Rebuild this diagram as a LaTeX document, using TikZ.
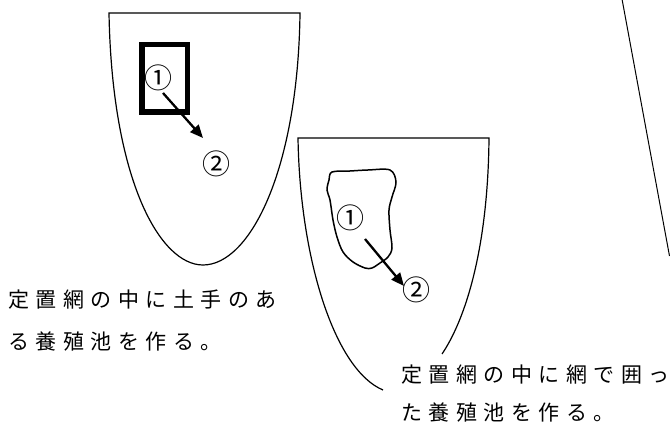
\documentclass[tikz,border=0pt]{standalone}
\usepackage{fontspec}
\usetikzlibrary{arrows.meta}
\newfontfamily\jp[LetterSpace=31]{Noto Sans CJK JP}
\newfontfamily\circfont{Noto Sans CJK JP}
\begin{document}
\begin{tikzpicture}[x=1pt,y=-1pt,
  outline/.style={line width=1.2pt},
  pond/.style={line width=5.5pt},
  netpond/.style={line width=1.5pt},
  arr/.style={line width=2.3pt,-{Triangle[length=13pt,width=11pt]}},
  num/.style={inner sep=0pt,font=\circfont\fontsize{28}{28}\selectfont},
  lbl/.style={anchor=west,inner sep=0pt,font=\jp\fontsize{21}{21}\selectfont}]
\useasboundingbox[fill=white] (0,0) rectangle (670,435);
% first set net
\draw[outline] (203,265) .. controls (160,265) and (112,180) .. (109,13) -- (300,13)
   .. controls (298,170) and (250,265) .. (203,265);
\draw[pond] (142,44.5) rectangle (187.5,112);
\node[num] (a1) at (158,78) {①};
\node[num] (a2) at (216,164) {②};
\coordinate (a1s) at (163,93);
\coordinate (a1e) at (203,138);
\draw[arr] (a1s) -- (a1e);
% second set net
\draw[outline] (383,390) .. controls (335,370) and (300,260) .. (298,138) -- (489,138)
   .. controls (488,250) and (465,320) .. (442,354);
\draw[netpond] plot[smooth cycle,tension=0.55] coordinates {
 (332,172) (350,171) (368,170) (390,170) (396,182) (392,197) (389,210) (390,230)
 (392,248) (388,257) (380,263) (372,268) (365,268) (353,262) (343,252) (337,237)
 (333,220) (330,200) (327,190) (329,180)};
\node[num] (b1) at (350,218) {①};
\node[num] (b2) at (416,290) {②};
\coordinate (b1s) at (365,239);
\coordinate (b1e) at (404,286);
\draw[arr] (b1s) -- (b1e);
% slanted line at right
\coordinate (r1) at (622,-1);
\coordinate (r2) at (669.5,256);
\draw[line width=1pt] (r1) -- (r2);
% labels
\node[lbl] (t1) at (8,300) {定置網の中に土手のあ};
\node[lbl] (t2) at (8,342) {る養殖池を作る。};
\node[lbl] (t3) at (401,375) {定置網の中に網で囲っ};
\node[lbl] (t4) at (401,413) {た養殖池を作る。};
\end{tikzpicture}
\end{document}
